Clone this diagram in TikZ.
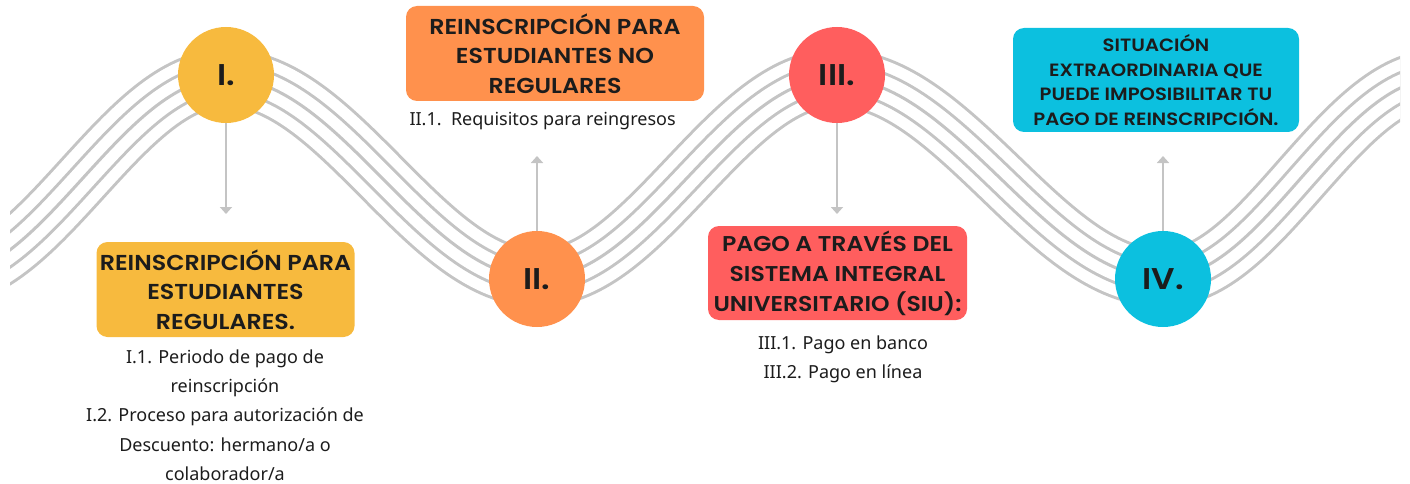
\documentclass[tikz,border=0pt]{standalone}
\usepackage{fontspec}
\setmainfont{Noto Sans}
\newfontfamily\headfont{Poppins SemiBold}[FakeStretch=1.1]
\usetikzlibrary{arrows.meta}
\definecolor{ylw}{HTML}{F7BA3E}
\definecolor{orng}{HTML}{FF914D}
\definecolor{rd}{HTML}{FF5E5E}
\definecolor{cyn}{HTML}{0CC0DF}
\definecolor{wave}{HTML}{C4C4C4}
\definecolor{ink}{HTML}{1C1C1C}

\begin{document}
\begin{tikzpicture}[x=1pt, y=-1pt,
    dot/.style={circle, minimum size=96pt, inner sep=0pt, text=ink,
      font=\headfont\fontsize{30}{30}\selectfont},
    head/.style={rounded corners=11pt, inner sep=0pt, align=center, text=ink,
      font=\headfont\fontsize{21.6}{29.5}\selectfont},
    items/.style={align=center, text=ink, font=\fontsize{18}{29.3}\selectfont},
    link/.style={line width=2.5pt, draw=wave, -{Triangle[width=12pt,length=7pt]}}]
    \useasboundingbox (0, 0) rectangle (1410, 484);
    % five parallel waves
    \begin{scope}
      \clip (10, 0) rectangle (1400, 484);
      \foreach \w/\c in {59/wave, 53/white, 31/wave, 25/white, 3/wave}
        \draw[line width=\w pt, \c, line join=round]
          (-60, 278) cos (83, 178) sin (226, 78) cos (382, 178) sin (538, 278)
          cos (687, 178) sin (836, 78) cos (1000, 178) sin (1163, 278)
          cos (1301, 178) sin (1440, 78);
    \end{scope}
    \draw (226, 75) node (c1) [dot, fill=ylw] {I.}
          (537, 279) node (c2) [dot, fill=orng] {II.}
          (837, 75) node (c3) [dot, fill=rd] {III.}
          (1163, 279) node (c4) [dot, fill=cyn] {IV.};
    \coordinate (a1) at (226, 214);
    \coordinate (a2) at (537, 156);
    \coordinate (a3) at (837, 214);
    \coordinate (a4) at (1163, 156);
    \draw[link] (c1) -- (a1);
    \draw[link] (c2) -- (a2);
    \draw[link] (c3) -- (a3);
    \draw[link] (c4) -- (a4);
    \draw (225.5, 289.5) node (h1) [head, fill=ylw, minimum width=258pt, minimum height=95pt]
            {REINSCRIPCIÓN PARA\\ESTUDIANTES\\REGULARES.}
          (555, 53.5) node (h2) [head, fill=orng, minimum width=298pt, minimum height=95pt]
            {REINSCRIPCIÓN PARA\\ESTUDIANTES NO\\REGULARES}
          (837.5, 273) node (h3) [head, fill=rd, minimum width=259pt, minimum height=94pt,
            font=\headfont\fontsize{21.4}{30}\selectfont]
            {PAGO A TRAVÉS DEL\\SISTEMA INTEGRAL\\UNIVERSITARIO (SIU):}
          (1156, 80) node (h4) [head, fill=cyn, minimum width=286pt, minimum height=104pt,
            font=\headfont\fontsize{17.8}{24.5}\selectfont]
            {SITUACIÓN\\EXTRAORDINARIA QUE\\PUEDE IMPOSIBILITAR TU\\PAGO DE REINSCRIPCIÓN.};
    \draw (225, 415) node (i1) [items]
            {I.1. Periodo de pago de\\reinscripción\\I.2. Proceso para autorización de\\Descuento: hermano/a o\\colaborador/a}
          (406, 121) node (i2) [items, anchor=west] {II.1.\ \ Requisitos para reingresos}
          (843, 359) node (i3) [items] {III.1. Pago en banco\\III.2. Pago en línea};
\end{tikzpicture}
\end{document}
